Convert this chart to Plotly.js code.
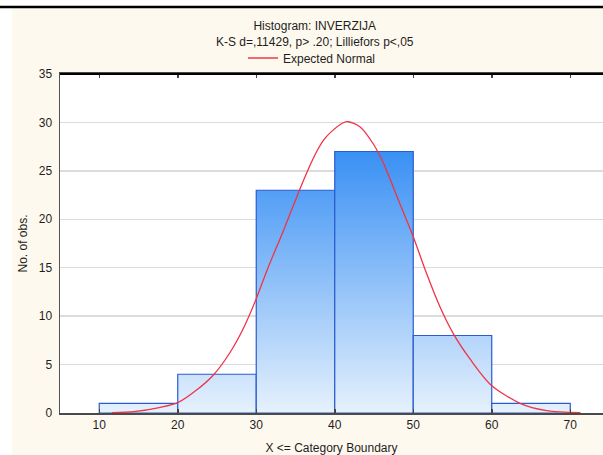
<!DOCTYPE html>
<html>
<head>
<meta charset="utf-8">
<script src="https://cdn.plot.ly/plotly-3.0.1.min.js"></script>
<style>html,body{margin:0;padding:0;background:#fff;}#chart{width:603px;height:455px;}</style>
</head>
<body>
<div id="chart"></div>
<script>
// Histogram bins (upper boundaries) and counts
var binLower = [10, 20, 30, 40, 50, 60];
var binUpper = [20, 30, 40, 50, 60, 70];
var counts = [1, 4, 23, 27, 8, 1];

// Expected normal curve
var normalX = [11.6, 14.4, 17.8, 20.0, 22.4, 24.6, 26.7, 28.4, 29.9, 31.4, 33.5, 35.6, 36.7, 37.7, 38.6, 39.5, 41.1, 41.7, 43.2, 44.9, 46.2, 48.3, 50.0, 51.7, 53.4, 55.1, 57.3, 59.9, 63.6, 67.0, 71.3];
var normalY = [0.03, 0.14, 0.59, 1.07, 2.37, 3.98, 6.3, 8.8, 11.6, 14.8, 18.9, 23.2, 25.3, 27.0, 28.2, 29.0, 29.97, 30.07, 29.56, 27.8, 25.8, 21.6, 18.2, 14.4, 10.97, 8.2, 5.5, 2.9, 1.0, 0.24, 0.03];

var xTicks = [10, 20, 30, 40, 50, 60, 70];
var yTicks = [0, 5, 10, 15, 20, 25, 30, 35];

var W = 603, H = 455, ML = 60, MR = 0, MT = 74, MB = 42;
function px2x(p){ return (p - ML) / (W - ML - MR); }
function px2y(p){ return (H - MB - p) / (H - MT - MB); }

var font = 'Liberation Sans, Arial, sans-serif';
var traces = [];
var maxCount = Math.max.apply(null, counts);
for (var i = 0; i < counts.length; i++) {
  traces.push({
    type: 'scatter', mode: 'lines',
    x: [binLower[i], binLower[i], binUpper[i], binUpper[i], binLower[i]],
    y: [0, counts[i], counts[i], 0, 0],
    fill: 'toself',
    fillgradient: {type: 'vertical', start: 0, stop: maxCount,
      colorscale: [[0, '#e6f1fd'], [1, '#3990f4']]},
    line: {color: '#2a5ccf', width: 1.2},
    showlegend: false, hoverinfo: 'skip'
  });
}
traces.push({
  type: 'scatter', mode: 'lines', name: 'Expected Normal',
  x: normalX, y: normalY,
  line: {color: '#f03446', width: 1.3, shape: 'spline', smoothing: 0.8},
  showlegend: true
});

var layout = {
  width: W, height: H,
  margin: {l: ML, r: MR, t: MT, b: MB, pad: 0},
  paper_bgcolor: '#fef9ee',
  plot_bgcolor: '#ffffff',
  font: {family: font, size: 12, color: '#1e1e1e'},
  title: {
    text: 'Histogram: INVERZIJA<br>K-S d=,11429, p> .20; Lilliefors p<,05',
    x: 0.522, xanchor: 'center', y: 0.934, yanchor: 'top',
    font: {family: font, size: 12, color: '#1e1e1e'}
  },
  showlegend: true,
  legend: {
    orientation: 'h', x: px2x(312), xanchor: 'center', y: px2y(58), yanchor: 'middle',
    bgcolor: 'rgba(0,0,0,0)', font: {family: font, size: 12, color: '#1e1e1e'}
  },
  xaxis: {
    range: [5, 5 + (W - ML - MR) / 7.85],
    tickvals: xTicks, ticktext: xTicks.map(String),
    ticks: 'inside', ticklen: 4, tickcolor: '#444', tickwidth: 1.5,
    showline: true, linecolor: '#4a4a4a', linewidth: 2, mirror: 'ticks',
    showgrid: false, zeroline: false,
    tickfont: {family: font, size: 12, color: '#1e1e1e'},
    title: {text: 'X <= Category Boundary', standoff: 14, font: {family: font, size: 12, color: '#1e1e1e'}},
    automargin: false
  },
  yaxis: {
    range: [0, 35],
    tickvals: yTicks, ticktext: yTicks.map(String),
    ticks: '', ticklabelstandoff: 4,
    showline: true, linecolor: '#555', linewidth: 1.5,
    showgrid: true, gridcolor: '#dcdcdc', gridwidth: 1.5,
    zeroline: false,
    tickfont: {family: font, size: 12, color: '#1e1e1e'},
    title: {text: 'No. of obs.', standoff: 8, font: {family: font, size: 12, color: '#1e1e1e'}},
    automargin: false
  },
  shapes: [
    {type: 'rect', xref: 'paper', yref: 'paper', x0: px2x(0), x1: px2x(12), y0: px2y(H), y1: px2y(0),
      fillcolor: '#ffffff', line: {width: 0}, layer: 'above'},
    {type: 'rect', xref: 'paper', yref: 'paper', x0: px2x(0), x1: px2x(W), y0: px2y(6), y1: px2y(0),
      fillcolor: '#ffffff', line: {width: 0}, layer: 'above'},
    {type: 'line', xref: 'paper', yref: 'paper', x0: px2x(0), x1: px2x(W), y0: px2y(7), y1: px2y(7),
      line: {color: '#000000', width: 2.5}, layer: 'above'},
    {type: 'line', xref: 'paper', yref: 'paper', x0: 0, x1: 1, y0: 1, y1: 1,
      line: {color: '#000000', width: 2}, layer: 'above'}
  ]
};

Plotly.newPlot('chart', traces, layout, {displayModeBar: false, staticPlot: true});
</script>
</body>
</html>
